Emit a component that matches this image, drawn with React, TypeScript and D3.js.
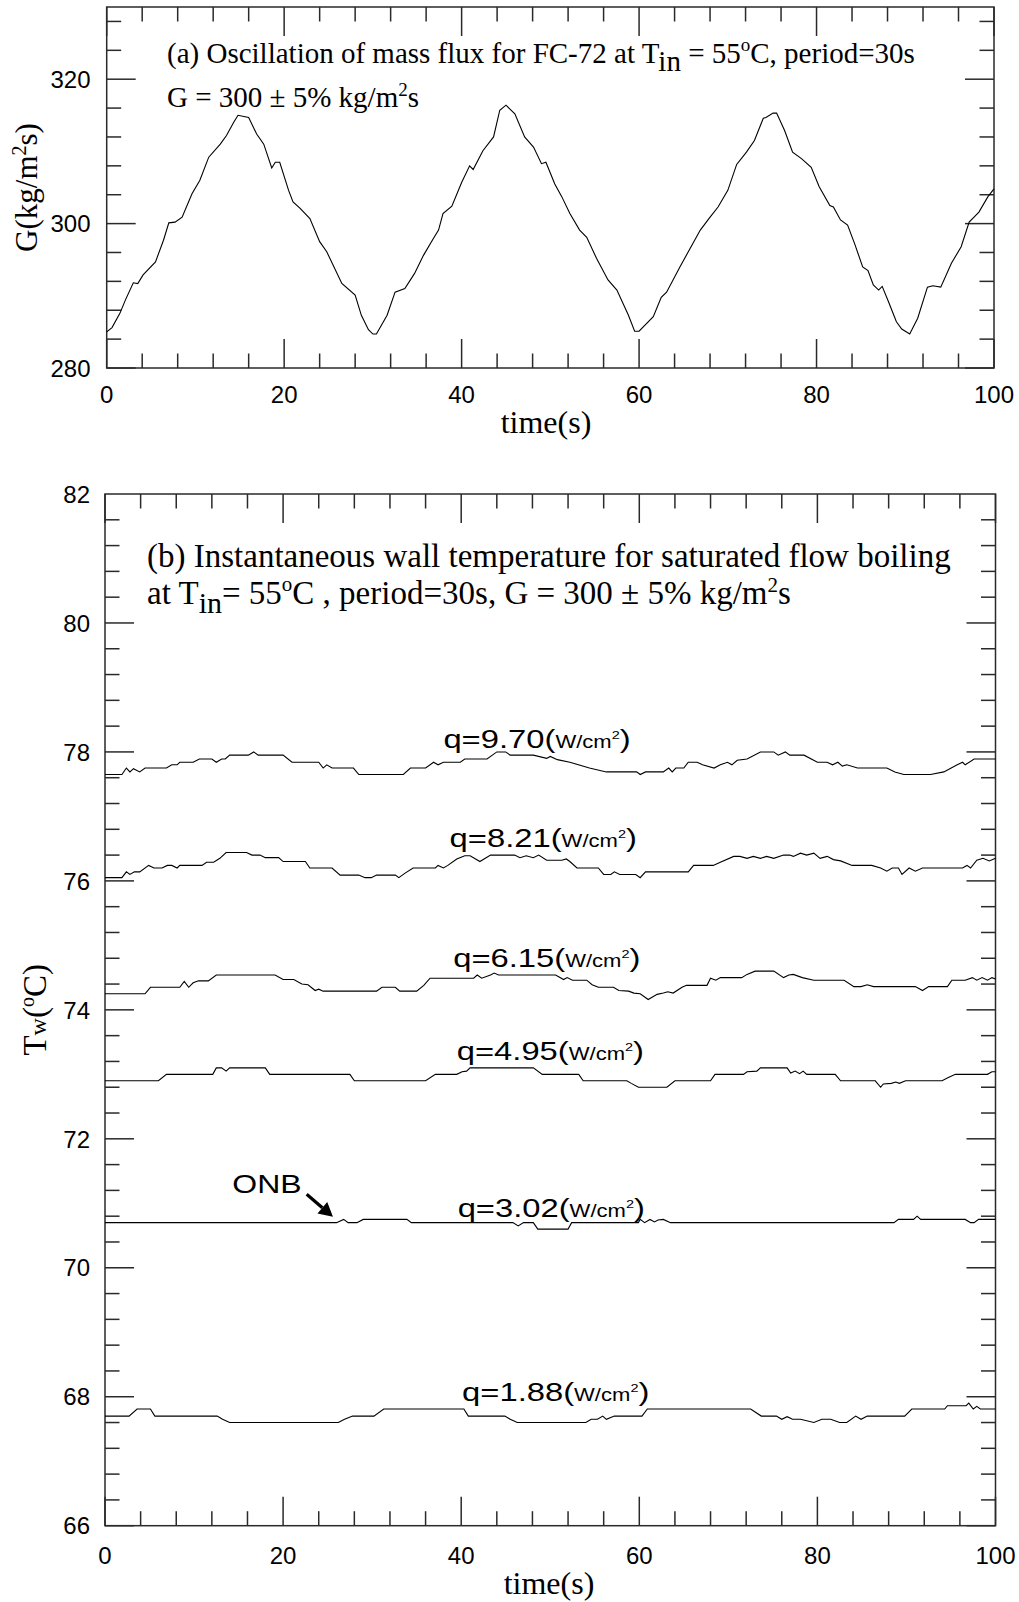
import React from "react";
import * as d3 from "d3";

// ---------------- data ----------------
// (a) mass flux G(t)  [time s, G kg/m2s]
const massFlux: [number, number][] = [
  [0, 285.0], [0.6, 285.6], [1.5, 287.6], [2.1, 289.4], [3.0, 291.8], [3.5, 291.7], [4.1, 292.9], [5.5, 294.7],
  [6.4, 297.7], [7.0, 300.1], [7.7, 300.2], [8.5, 300.9], [9.6, 304.1], [10.5, 306.0], [11.5, 309.2], [12.8, 311.0],
  [13.5, 312.2], [14.3, 314.0], [14.8, 315.0], [16.0, 314.7], [16.9, 312.4], [17.7, 311.0], [18.6, 307.7], [19.0, 308.5],
  [19.5, 308.5], [20.5, 304.6], [21.0, 303.0], [21.8, 302.1], [22.9, 300.7], [24.0, 297.5], [24.8, 296.1], [26.5, 291.7],
  [28.0, 290.1], [28.7, 287.3], [29.5, 285.3], [30.0, 284.7], [30.4, 284.7], [31.6, 287.3], [32.5, 290.5], [33.6, 291.0],
  [34.7, 293.1], [35.7, 295.6], [36.8, 297.9], [37.4, 299.1], [37.9, 301.4], [38.9, 302.4], [40.0, 305.7], [40.9, 308.0],
  [41.3, 307.5], [42.4, 310.1], [43.6, 312.0], [44.3, 315.7], [45.0, 316.4], [46.0, 315.2], [47.1, 312.0], [48.1, 310.6],
  [49.0, 308.3], [49.5, 308.5], [50.5, 305.5], [51.3, 303.7], [52.2, 301.4], [53.3, 299.1], [54.1, 298.1], [55.2, 295.2],
  [56.5, 292.2], [57.5, 290.8], [58.8, 287.3], [59.5, 285.1], [60.0, 285.1], [61.6, 287.1], [62.5, 289.8], [63.1, 290.5],
  [64.6, 294.0], [66.9, 299.1], [68.0, 300.9], [68.9, 302.3], [70.0, 304.6], [71.0, 308.2], [72.1, 309.9], [73.0, 311.5],
  [74.0, 314.6], [74.3, 314.7], [75.1, 315.3], [75.5, 315.3], [76.4, 312.9], [77.3, 309.9], [78.3, 309.0], [79.4, 307.8],
  [80.3, 305.1], [81.5, 302.5], [81.9, 302.3], [82.7, 300.5], [83.5, 299.8], [84.3, 297.2], [85.2, 294.0], [85.8, 293.5],
  [86.4, 291.5], [87.0, 290.8], [87.4, 291.3], [88.1, 289.2], [89.0, 286.4], [89.6, 285.4], [90.5, 284.7], [91.4, 286.9],
  [92.5, 291.2], [93.1, 291.4], [94.0, 291.2], [95.2, 294.5], [96.3, 296.8], [97.2, 300.2], [98.3, 301.6], [99.3, 303.7],
  [100, 304.8],
];

// (b) wall temperature series [time s, Tw degC]
const q970: [number, number][] = [
  [0, 77.65], [1.9, 77.65], [2.4, 77.75], [2.8, 77.69], [3.2, 77.74], [3.9, 77.69], [4.5, 77.75], [6.9, 77.75],
  [7.5, 77.8], [8.1, 77.8], [8.4, 77.84], [9.9, 77.84], [10.6, 77.89], [12.0, 77.89], [12.5, 77.84], [13.1, 77.89],
  [13.5, 77.89], [14.0, 77.95], [16.1, 77.95], [16.7, 78.0], [17.2, 77.95], [20.0, 77.95], [21.0, 77.84], [24.0, 77.84],
  [24.5, 77.75], [24.9, 77.8], [25.5, 77.75], [27.9, 77.75], [28.5, 77.65], [33.5, 77.65], [34.3, 77.75], [36.0, 77.75],
  [36.9, 77.84], [37.4, 77.8], [38.0, 77.84], [39.9, 77.84], [40.4, 77.89], [42.9, 77.89], [44.0, 78.0], [45.0, 78.0],
  [45.5, 77.95], [48.1, 77.95], [49.6, 77.9], [50.0, 77.93], [50.8, 77.88], [52.2, 77.84], [54.4, 77.75], [56.3, 77.69],
  [59.7, 77.69], [60.1, 77.65], [60.7, 77.69], [62.7, 77.69], [63.3, 77.75], [63.7, 77.69], [64.1, 77.75], [65.0, 77.75],
  [65.5, 77.84], [66.5, 77.84], [67.1, 77.8], [68.4, 77.75], [69.1, 77.8], [69.9, 77.84], [70.4, 77.8], [71.0, 77.87],
  [72.1, 77.89], [73.6, 78.0], [75.1, 78.0], [75.6, 77.95], [76.4, 78.0], [76.9, 77.95], [78.5, 77.95], [80.0, 77.84],
  [81.1, 77.84], [81.7, 77.8], [82.3, 77.84], [82.8, 77.78], [83.3, 77.8], [84.5, 77.75], [87.8, 77.75], [88.7, 77.69],
  [89.7, 77.65], [92.7, 77.65], [94.2, 77.69], [95.7, 77.8], [96.3, 77.84], [96.6, 77.8], [97.6, 77.89], [100, 77.89],
];
const q821: [number, number][] = [
  [0, 76.05], [1.9, 76.05], [2.4, 76.14], [2.8, 76.1], [3.3, 76.14], [3.9, 76.14], [4.9, 76.24], [5.5, 76.2],
  [6.4, 76.2], [7.0, 76.24], [7.5, 76.24], [8.1, 76.2], [8.4, 76.24], [10.9, 76.24], [11.4, 76.29], [12.2, 76.29],
  [12.9, 76.35], [13.6, 76.44], [15.9, 76.44], [16.5, 76.4], [17.4, 76.4], [18.0, 76.36], [19.5, 76.36], [20.0, 76.3],
  [22.5, 76.3], [23.0, 76.2], [25.5, 76.2], [26.4, 76.09], [28.5, 76.09], [29.2, 76.05], [29.9, 76.05], [30.5, 76.09],
  [32.6, 76.09], [33.0, 76.05], [33.7, 76.12], [34.6, 76.2], [37.1, 76.2], [37.4, 76.24], [38.0, 76.2], [38.5, 76.24],
  [39.5, 76.34], [40.4, 76.39], [41.0, 76.39], [42.1, 76.3], [43.3, 76.4], [46.0, 76.4], [46.6, 76.36], [47.3, 76.39],
  [48.1, 76.36], [48.7, 76.4], [49.6, 76.32], [51.3, 76.32], [51.8, 76.34], [52.2, 76.3], [53.0, 76.2], [55.4, 76.2],
  [56.0, 76.1], [56.8, 76.1], [57.2, 76.14], [57.8, 76.1], [59.6, 76.1], [60.1, 76.05], [60.7, 76.14], [65.5, 76.14],
  [66.1, 76.24], [68.3, 76.24], [69.1, 76.29], [70.6, 76.38], [71.3, 76.38], [72.1, 76.35], [72.8, 76.38], [73.6, 76.35],
  [74.3, 76.38], [75.1, 76.35], [76.2, 76.4], [76.9, 76.4], [77.3, 76.38], [78.1, 76.43], [78.8, 76.4], [79.6, 76.43],
  [80.3, 76.35], [81.1, 76.38], [81.8, 76.33], [82.6, 76.31], [83.9, 76.24], [86.1, 76.24], [87.1, 76.2], [87.8, 76.15],
  [88.4, 76.2], [89.1, 76.2], [89.5, 76.1], [90.3, 76.2], [91.0, 76.15], [91.8, 76.2], [96.3, 76.2], [96.8, 76.24],
  [97.2, 76.2], [97.9, 76.32], [98.6, 76.35], [99.3, 76.31], [100, 76.35],
];
const q615: [number, number][] = [
  [0, 74.25], [4.5, 74.25], [5.1, 74.35], [8.4, 74.35], [8.9, 74.44], [9.4, 74.35], [9.9, 74.42], [10.5, 74.45],
  [11.6, 74.45], [12.5, 74.54], [19.1, 74.54], [20.0, 74.47], [21.2, 74.47], [22.1, 74.4], [22.8, 74.39], [23.6, 74.3],
  [24.0, 74.32], [24.5, 74.29], [30.5, 74.29], [31.1, 74.35], [32.6, 74.35], [33.1, 74.29], [35.0, 74.29], [35.8, 74.38],
  [36.5, 74.49], [41.4, 74.49], [41.8, 74.54], [42.3, 74.49], [43.3, 74.54], [43.7, 74.57], [44.2, 74.54], [50.6, 74.54],
  [51.5, 74.47], [51.9, 74.5], [52.5, 74.46], [54.1, 74.46], [54.7, 74.39], [55.4, 74.35], [57.1, 74.35], [57.7, 74.3],
  [58.8, 74.29], [59.4, 74.26], [60.1, 74.25], [61.0, 74.16], [62.0, 74.24], [62.7, 74.26], [63.2, 74.28], [63.8, 74.26],
  [64.8, 74.35], [65.3, 74.38], [67.6, 74.38], [68.0, 74.49], [68.6, 74.46], [69.1, 74.5], [71.5, 74.5], [72.1, 74.55],
  [73.0, 74.6], [75.1, 74.6], [76.2, 74.5], [76.8, 74.54], [77.3, 74.55], [78.3, 74.5], [79.6, 74.46], [83.0, 74.46],
  [84.1, 74.36], [84.9, 74.36], [85.6, 74.39], [86.3, 74.36], [91.0, 74.36], [91.8, 74.3], [92.5, 74.36], [94.6, 74.36],
  [95.1, 74.46], [96.6, 74.46], [97.4, 74.5], [97.9, 74.46], [98.5, 74.5], [99.1, 74.46], [99.6, 74.5], [100, 74.48],
];
const q495: [number, number][] = [
  [0, 72.9], [6.0, 72.9], [6.9, 73.0], [12.1, 73.0], [12.5, 73.1], [13.1, 73.1], [13.6, 73.05], [14.0, 73.1],
  [18.0, 73.1], [18.5, 73.0], [27.5, 73.0], [28.0, 72.9], [36.0, 72.9], [37.1, 73.0], [39.5, 73.0], [40.1, 73.04],
  [40.6, 73.05], [41.0, 73.1], [48.1, 73.1], [49.1, 73.0], [53.2, 73.0], [53.7, 72.9], [58.6, 72.9], [59.1, 72.86],
  [59.9, 72.8], [63.1, 72.8], [64.0, 72.9], [68.0, 72.9], [68.5, 73.0], [71.7, 73.0], [72.1, 73.04], [73.2, 73.05],
  [73.6, 73.1], [76.6, 73.1], [77.0, 73.02], [77.5, 73.05], [78.0, 73.01], [78.4, 73.05], [78.8, 73.0], [82.0, 73.0],
  [82.6, 72.9], [86.5, 72.9], [87.1, 72.8], [87.4, 72.85], [88.3, 72.86], [88.8, 72.88], [89.2, 72.86], [89.9, 72.9],
  [94.0, 72.9], [94.7, 72.95], [95.5, 73.0], [99.1, 73.0], [99.6, 73.04], [100, 73.04],
];
const q302: [number, number][] = [
  [0, 70.7], [26.0, 70.7], [26.8, 70.75], [27.3, 70.7], [28.3, 70.7], [29.0, 70.75], [33.9, 70.75], [34.4, 70.7],
  [45.8, 70.7], [46.4, 70.65], [47.0, 70.7], [48.1, 70.7], [48.6, 70.6], [52.0, 70.6], [52.4, 70.7], [59.9, 70.7],
  [60.1, 70.75], [60.6, 70.7], [61.2, 70.75], [61.7, 70.71], [62.1, 70.74], [62.7, 70.75], [63.5, 70.7], [88.6, 70.7],
  [89.1, 70.75], [90.8, 70.75], [91.2, 70.8], [91.6, 70.75], [96.6, 70.75], [97.2, 70.7], [97.6, 70.7], [98.1, 70.75],
  [100, 70.75],
];
const q188: [number, number][] = [
  [0, 67.7], [2.7, 67.7], [3.6, 67.81], [5.1, 67.81], [5.6, 67.7], [12.6, 67.7], [13.2, 67.65], [14.0, 67.6],
  [26.2, 67.6], [26.9, 67.65], [27.8, 67.7], [30.2, 67.7], [31.3, 67.81], [40.3, 67.81], [40.8, 67.7], [44.9, 67.7],
  [45.5, 67.65], [46.3, 67.6], [54.0, 67.6], [54.6, 67.65], [55.3, 67.65], [55.9, 67.7], [56.3, 67.65], [57.2, 67.7],
  [60.3, 67.7], [60.9, 67.81], [72.5, 67.81], [73.7, 67.7], [75.4, 67.7], [76.0, 67.65], [76.6, 67.69], [77.2, 67.65],
  [78.1, 67.65], [79.6, 67.6], [80.5, 67.65], [81.5, 67.65], [82.5, 67.6], [83.3, 67.6], [84.3, 67.7], [84.9, 67.65],
  [85.6, 67.7], [89.8, 67.7], [90.6, 67.81], [94.3, 67.81], [94.6, 67.86], [96.7, 67.86], [97.0, 67.9], [97.5, 67.81],
  [97.9, 67.85], [98.3, 67.81], [100, 67.81],
];

const tempSeries = [q970, q821, q615, q495, q302, q188];
const heatFluxLabels = ["9.70", "8.21", "6.15", "4.95", "3.02", "1.88"];
// label anchor (time, temperature) for each q label
const labelAnchors: [number, number][] = [
  [38.0, 78.06], [38.7, 76.53], [39.1, 74.66], [39.5, 73.22], [39.6, 70.79], [40.1, 67.93],
];
const onbText: [number, number] = [14.3, 71.16];
const onbArrow: [number, number][] = [[22.65, 71.14], [25.6, 70.79]];

const xTickLabels = [0, 20, 40, 60, 80, 100];
const gTickLabels = [280, 300, 320];
const tTickLabels = [66, 68, 70, 72, 74, 76, 78, 80, 82];

// ---------------- layout ----------------
const SERIF = "'Liberation Serif', 'Times New Roman', serif";
const SANS = "'Liberation Sans', Arial, sans-serif";
const AX = "#2a2a2a";

const xA = d3.scaleLinear().domain([0, 100]).range([106.7, 994]);
const yA = d3.scaleLinear().domain([280, 330]).range([368, 7]);
const xB = d3.scaleLinear().domain([0, 100]).range([105, 995.5]);
const yB = d3.scaleLinear().domain([66, 82]).range([1525.7, 494]);

type Sc = d3.ScaleLinear<number, number>;

function Frame({ x, y, xMinor, xMajor, yMinor, yMajor, yMax }: {
  x: Sc; y: Sc; xMinor: number; xMajor: number; yMinor: number; yMajor: number; yMax: number;
}) {
  const [x0, x1] = x.range();
  const [y0, y1] = y.range(); // y0 bottom, y1 top
  const [dx0, dx1] = x.domain();
  const [dy0] = y.domain();
  const xt = d3.range(dx0, dx1 + 1e-6, xMinor);
  const yt = d3.range(dy0, yMax + 1e-6, yMinor);
  const isMaj = (v: number, m: number) => Math.abs(v / m - Math.round(v / m)) < 1e-6;
  const L = 29, S = 14.5;
  return (
    <g stroke={AX} strokeWidth={1.5} fill="none">
      <rect x={x0} y={y1} width={x1 - x0} height={y0 - y1} />
      {xt.map((v, i) => {
        const len = isMaj(v, xMajor) ? L : S;
        const px = x(v);
        return (
          <g key={"x" + i}>
            <line x1={px} x2={px} y1={y0} y2={y0 - len} />
            <line x1={px} x2={px} y1={y1} y2={y1 + len} />
          </g>
        );
      })}
      {yt.map((v, i) => {
        const len = isMaj(v, yMajor) ? L : S;
        const py = y(v);
        return (
          <g key={"y" + i}>
            <line x1={x0} x2={x0 + len} y1={py} y2={py} />
            <line x1={x1} x2={x1 - len} y1={py} y2={py} />
          </g>
        );
      })}
    </g>
  );
}

function QLabel({ t, v, q }: { t: number; v: number; q: string }) {
  return (
    <g transform={`translate(${xB(t)},${yB(v)}) scale(1.26,1)`}>
      <text fontFamily={SANS} fontSize={26} fill="#000">
        <tspan>{`q=${q}(`}</tspan>
        <tspan fontSize={17.5}>W/cm</tspan>
        <tspan fontSize={11.5} dy={-9}>2</tspan>
        <tspan dy={9}>)</tspan>
      </text>
    </g>
  );
}

export default function App() {
  const lineA = d3.line<[number, number]>().x((d) => xA(d[0])).y((d) => yA(d[1]));
  const lineB = d3.line<[number, number]>().x((d) => xB(d[0])).y((d) => yB(d[1]));

  const [as, ae] = onbArrow;
  const ax0 = xB(as[0]), ay0 = yB(as[1]), ax1 = xB(ae[0]), ay1 = yB(ae[1]);
  const ang = Math.atan2(ay1 - ay0, ax1 - ax0);
  const hl = 14, hw = 7.5;
  const bx = ax1 - hl * Math.cos(ang), by = ay1 - hl * Math.sin(ang);
  const head = [
    [ax1, ay1],
    [bx + hw * Math.sin(ang), by - hw * Math.cos(ang)],
    [bx - hw * Math.sin(ang), by + hw * Math.cos(ang)],
  ].map((p) => p.join(",")).join(" ");

  return (
    <svg width={1019} height={1602} style={{ position: "absolute", left: 0, top: 0, background: "#fff" }}>
      <rect x={0} y={0} width={1019} height={1602} fill="#fff" />

      {/* ---------- (a) ---------- */}
      <Frame x={xA} y={yA} xMinor={4} xMajor={20} yMinor={4} yMajor={20} yMax={329} />
      <path d={lineA(massFlux) || ""} fill="none" stroke="#000" strokeWidth={1.1} />
      {gTickLabels.map((v) => (
        <text key={v} x={90.5} y={yA(v) + 8.7} textAnchor="end" fontFamily={SANS} fontSize={24}>{v}</text>
      ))}
      {xTickLabels.map((v) => (
        <text key={v} x={xA(v)} y={403} textAnchor="middle" fontFamily={SANS} fontSize={24}>{v}</text>
      ))}
      <text x={546} y={433} textAnchor="middle" fontFamily={SERIF} fontSize={32}>time(s)</text>
      <text transform={`translate(37,${(yA.range()[0] + yA.range()[1]) / 2}) rotate(-90)`} textAnchor="middle" fontFamily={SERIF} fontSize={31}>
        G(kg/m<tspan fontSize={20} dy={-11}>2</tspan><tspan dy={11}>s)</tspan>
      </text>
      <text x={167} y={63} fontFamily={SERIF} fontSize={29}>
        (a) Oscillation of mass flux for FC-72 at T<tspan dy={8} fontSize={29}>in</tspan>
        <tspan dy={-8}> = 55</tspan><tspan fontSize={19} dy={-12}>o</tspan><tspan dy={12}>C, period=30s</tspan>
      </text>
      <text x={167} y={107} fontFamily={SERIF} fontSize={29}>
        G = 300 ± 5% kg/m<tspan fontSize={19} dy={-11}>2</tspan><tspan dy={11}>s</tspan>
      </text>

      {/* ---------- (b) ---------- */}
      <Frame x={xB} y={yB} xMinor={4} xMajor={20} yMinor={0.4} yMajor={2} yMax={81.9} />
      {tempSeries.map((s, i) => (
        <path key={i} d={lineB(s) || ""} fill="none" stroke="#000" strokeWidth={1.1} />
      ))}
      {tTickLabels.map((v) => (
        <text key={v} x={90} y={yB(v) + 8.7} textAnchor="end" fontFamily={SANS} fontSize={24}>{v}</text>
      ))}
      {xTickLabels.map((v) => (
        <text key={v} x={xB(v)} y={1564} textAnchor="middle" fontFamily={SANS} fontSize={24}>{v}</text>
      ))}
      <text x={549} y={1594} textAnchor="middle" fontFamily={SERIF} fontSize={32}>time(s)</text>
      <text transform={`translate(46,${(yB.range()[0] + yB.range()[1]) / 2}) rotate(-90)`} textAnchor="middle" fontFamily={SERIF} fontSize={33}>
        T<tspan fontSize={24}>w</tspan>(<tspan fontSize={20} dy={-12}>o</tspan><tspan dy={12}>C)</tspan>
      </text>
      <text x={147} y={567} fontFamily={SERIF} fontSize={33}>
        (b) Instantaneous wall temperature for saturated flow boiling
      </text>
      <text x={147} y={604} fontFamily={SERIF} fontSize={33}>
        at T<tspan dy={9} fontSize={30}>in</tspan><tspan dy={-9}>= 55</tspan><tspan fontSize={21} dy={-13}>o</tspan>
        <tspan dy={13}>C , period=30s, G = 300 ± 5% kg/m</tspan><tspan fontSize={21} dy={-12}>2</tspan><tspan dy={12}>s</tspan>
      </text>

      {heatFluxLabels.map((q, i) => (
        <QLabel key={q} t={labelAnchors[i][0]} v={labelAnchors[i][1]} q={q} />
      ))}

      <g transform={`translate(${xB(onbText[0])},${yB(onbText[1])}) scale(1.23,1)`}>
        <text fontFamily={SANS} fontSize={26}>ONB</text>
      </g>
      <line x1={ax0} y1={ay0} x2={bx} y2={by} stroke="#000" strokeWidth={3.2} />
      <polygon points={head} fill="#000" />
    </svg>
  );
}
